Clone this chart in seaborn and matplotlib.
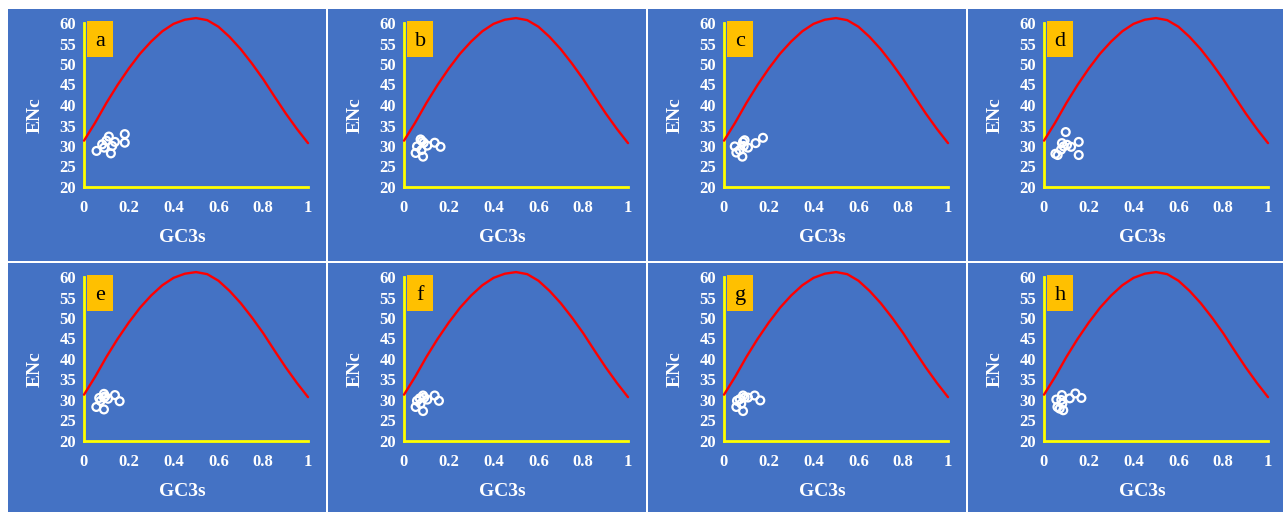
import numpy as np
import pandas as pd
import matplotlib
matplotlib.use("Agg")
import matplotlib.pyplot as plt
from matplotlib.patches import Rectangle
import seaborn as sns

sns.set_theme(style="white")
plt.rcParams["font.family"] = ["Liberation Serif", "DejaVu Serif"]

# ---- data -------------------------------------------------------------
panel_labels = ["a", "b", "c", "d", "e", "f", "g", "h"]

gc3s_a = [0.056, 0.111, 0.100, 0.090, 0.120, 0.138, 0.182, 0.182, 0.126, 0.081]
enc_a = [28.8, 32.3, 31.3, 29.6, 28.2, 31.0, 32.9, 30.8, 30.0, 30.4]

gc3s_b = [0.052, 0.058, 0.080, 0.085, 0.078, 0.104, 0.137, 0.163, 0.074, 0.088]
enc_b = [28.3, 29.9, 31.2, 27.4, 29.0, 30.1, 30.8, 29.8, 31.6, 30.8]

gc3s_c = [0.048, 0.055, 0.082, 0.085, 0.088, 0.107, 0.092, 0.141, 0.174, 0.070]
enc_c = [29.9, 28.4, 27.4, 31.0, 30.0, 29.6, 31.4, 30.7, 32.0, 29.0]

gc3s_d = [0.051, 0.061, 0.080, 0.097, 0.076, 0.103, 0.121, 0.155, 0.155, 0.088]
enc_d = [28.1, 27.8, 30.7, 33.4, 29.1, 30.3, 29.8, 31.0, 27.8, 29.9]

gc3s_e = [0.055, 0.068, 0.089, 0.089, 0.089, 0.107, 0.138, 0.159, 0.074, 0.095]
enc_e = [28.3, 30.5, 31.5, 30.6, 27.7, 30.3, 31.2, 29.7, 29.8, 30.9]

gc3s_f = [0.052, 0.058, 0.085, 0.085, 0.074, 0.104, 0.137, 0.156, 0.070, 0.090]
enc_f = [28.3, 29.8, 31.1, 27.3, 29.1, 30.1, 31.1, 29.8, 30.4, 30.6]

gc3s_g = [0.055, 0.058, 0.085, 0.085, 0.077, 0.107, 0.137, 0.162, 0.070, 0.092]
enc_g = [28.3, 29.8, 31.1, 27.3, 29.1, 30.6, 31.1, 29.9, 30.2, 30.6]

gc3s_h = [0.055, 0.060, 0.070, 0.080, 0.086, 0.082, 0.115, 0.140, 0.167, 0.077]
enc_h = [30.1, 28.3, 27.9, 31.2, 27.5, 29.1, 30.4, 31.6, 30.5, 30.0]

gc3s_sets = [gc3s_a, gc3s_b, gc3s_c, gc3s_d, gc3s_e, gc3s_f, gc3s_g, gc3s_h]
enc_sets = [enc_a, enc_b, enc_c, enc_d, enc_e, enc_f, enc_g, enc_h]

# expected ENc curve (standard curve drawn in every panel)
curve_gc3s = [0.00, 0.05, 0.10, 0.15, 0.20, 0.25, 0.30, 0.35, 0.40, 0.45, 0.50,
              0.55, 0.60, 0.65, 0.70, 0.75, 0.80, 0.85, 0.90, 0.95, 1.00]
curve_enc = [31.3, 35.7, 40.5, 44.9, 48.9, 52.5, 55.5, 58.0, 59.8, 60.8, 61.2,
             60.7, 59.1, 56.6, 53.6, 50.1, 46.3, 42.1, 38.0, 34.2, 30.7]

x_ticks = [0, 0.2, 0.4, 0.6, 0.8, 1]
x_tick_labels = ["0", "0.2", "0.4", "0.6", "0.8", "1"]
y_ticks = [20, 25, 30, 35, 40, 45, 50, 55, 60]
y_tick_labels = ["20", "25", "30", "35", "40", "45", "50", "55", "60"]

curve_df = pd.DataFrame({"GC3s": curve_gc3s, "ENc": curve_enc})

# ---- figure -------------------------------------------------------------
W, H, DPI = 1285, 514, 100
fig = plt.figure(figsize=(W / DPI, H / DPI), dpi=DPI)
fig.patch.set_facecolor("white")

BLUE = "#4472C4"
YELLOW = "#FFFF00"
ORANGE = "#FFC000"
RED = "#FF0000"

col_edges = [(8, 326), (328, 646), (648, 966), (968, 1283)]
row_edges = [(9, 261), (263, 512)]

AX_LEFT_OFF, AX_W = 76, 224
AX_TOP_OFF, AX_H = 14, 164

for i, label in enumerate(panel_labels):
    r, c = divmod(i, 4)
    l, rr = col_edges[c]
    t, b = row_edges[r]
    fig.add_artist(Rectangle((l / W, 1 - b / H), (rr - l) / W, (b - t) / H,
                             transform=fig.transFigure, facecolor=BLUE,
                             edgecolor="none", zorder=0))

    ax_l = l + AX_LEFT_OFF
    ax_t = t + AX_TOP_OFF
    ax = fig.add_axes([ax_l / W, 1 - (ax_t + AX_H) / H, AX_W / W, AX_H / H])
    ax.set_facecolor("none")

    sns.lineplot(data=curve_df, x="GC3s", y="ENc", ax=ax, color=RED,
                 linewidth=1.7, zorder=3, clip_on=False)
    pts = pd.DataFrame({"GC3s": gc3s_sets[i], "ENc": enc_sets[i]})
    sns.scatterplot(data=pts, x="GC3s", y="ENc", ax=ax, marker="o",
                    s=32, facecolors="none", edgecolor="white",
                    linewidth=1.6, zorder=4)

    ax.set_xlim(0, 1)
    ax.set_ylim(20, 60)
    ax.set_xticks(x_ticks)
    ax.set_xticklabels(x_tick_labels)
    ax.set_yticks(y_ticks)
    ax.set_yticklabels(y_tick_labels)

    for side in ("top", "right"):
        ax.spines[side].set_visible(False)
    for side in ("left", "bottom"):
        ax.spines[side].set_color(YELLOW)
        ax.spines[side].set_linewidth(2.0)

    ax.tick_params(axis="both", which="major", direction="out", length=3.5,
                   width=2.0, color=YELLOW, labelcolor="white",
                   labelsize=12)
    ax.tick_params(axis="x", pad=6)
    ax.tick_params(axis="y", pad=2)
    for tl in ax.get_xticklabels() + ax.get_yticklabels():
        tl.set_fontweight("bold")

    ax.set_xlabel("GC3s", color="white", fontsize=14, fontweight="bold",
                  va="center")
    ax.set_ylabel("ENc", color="white", fontsize=14, fontweight="bold",
                  va="center")
    ax.xaxis.set_label_coords(0.437, -0.305)
    ax.yaxis.set_label_coords(-0.216, 0.438)

    ax.add_patch(Rectangle((0.014, 0.79), 0.116, 0.222,
                           transform=ax.transAxes, facecolor=ORANGE,
                           edgecolor="none", clip_on=False, zorder=5))
    ax.text(0.072, 0.885, label, transform=ax.transAxes, ha="center",
            va="center", fontsize=16, color="black", zorder=6)

fig.savefig("out.png", dpi=DPI, facecolor="white")
